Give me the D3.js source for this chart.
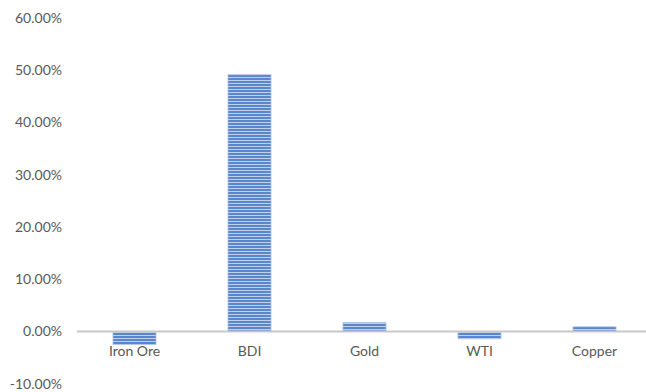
<!DOCTYPE html>
<html>
<head>
<meta charset="utf-8">
<script src="https://cdn.jsdelivr.net/npm/d3@7"></script>
<style>
  body { margin: 0; background: #fff; }
  .tick text { font-family: Lato, "Open Sans", sans-serif; fill: #595959; }
</style>
</head>
<body>
<div id="chart"></div>
<script>
var categories = ["Iron Ore", "BDI", "Gold", "WTI", "Copper"];
var values = [-0.025, 0.491, 0.017, -0.014, 0.009];
var yTicks = [-0.1, 0, 0.1, 0.2, 0.3, 0.4, 0.5, 0.6];

var width = 646, height = 392;

var svg = d3.select("#chart").append("svg")
    .attr("width", width)
    .attr("height", height);

// striped fill like the excel pattern
var defs = svg.append("defs");
var pat = defs.append("pattern")
    .attr("id", "stripes")
    .attr("patternUnits", "userSpaceOnUse")
    .attr("width", 6)
    .attr("height", 3);
pat.append("rect").attr("width", 6).attr("height", 3).attr("fill", "#bfd0ec");
pat.append("rect").attr("width", 6).attr("height", 2).attr("fill", "#5a87cb");

var xScale = d3.scaleBand()
    .domain(categories)
    .range([77, 652])
    .paddingInner(0.626)
    .paddingOuter(0.313);

var yScale = d3.scaleLinear()
    .domain([-0.1, 0.6])
    .range([383.8, 17.7]);

var pct = d3.format(".2%");

// y axis labels only
var yAxis = d3.axisLeft(yScale)
    .tickValues(yTicks)
    .tickFormat(function(d) { return pct(d).replace("\u2212", "-"); })
    .tickSize(0)
    .tickPadding(0);

svg.append("g")
    .attr("class", "y axis")
    .attr("transform", "translate(62,0)")
    .call(yAxis)
    .call(function(g) { g.select(".domain").remove(); })
    .selectAll("text")
        .style("font-size", "14px");

// bars
svg.selectAll(".bar")
    .data(values)
  .enter().append("rect")
    .attr("class", "bar")
    .attr("x", function(d, i) { return xScale(categories[i]); })
    .attr("width", xScale.bandwidth())
    .attr("y", function(d) { return yScale(Math.max(0, d)); })
    .attr("height", function(d) { return Math.abs(yScale(d) - yScale(0)); })
    .attr("fill", "url(#stripes)")
    .attr("stroke", "#a9c0e6")
    .attr("stroke-width", 0.8);

// zero line
svg.append("line")
    .attr("x1", 77)
    .attr("x2", 646)
    .attr("y1", yScale(0))
    .attr("y2", yScale(0))
    .attr("stroke", "#c8c8c8")
    .attr("stroke-width", 2);

// category labels sit below the zero line
var xAxis = d3.axisBottom(xScale)
    .tickSize(0)
    .tickPadding(15);

svg.append("g")
    .attr("class", "x axis")
    .attr("transform", "translate(0," + yScale(0) + ")")
    .call(xAxis)
    .call(function(g) { g.select(".domain").remove(); })
    .selectAll("text")
        .style("font-size", "14px");
</script>
</body>
</html>
